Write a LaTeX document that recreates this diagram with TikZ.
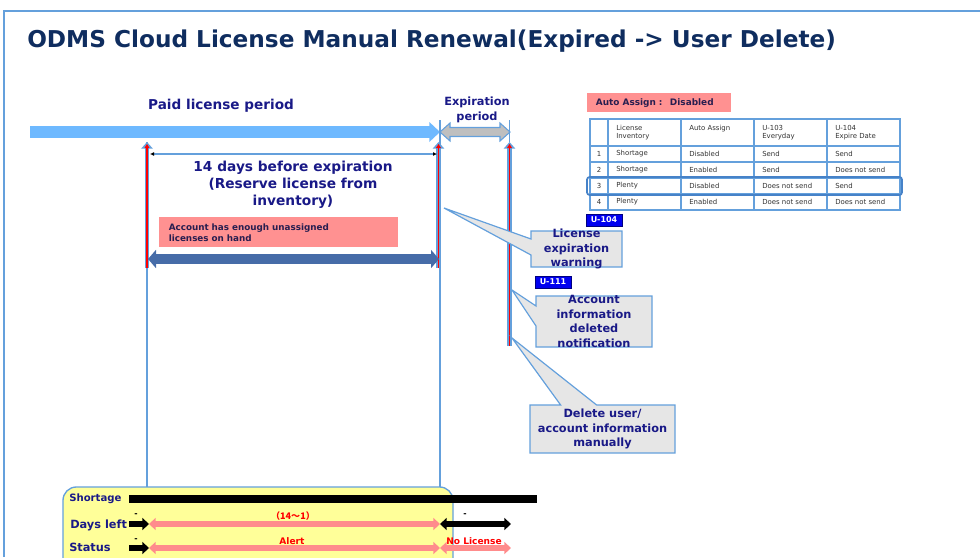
\documentclass[tikz,border=0pt]{standalone}
\usepackage{fontspec}
\setmainfont{DejaVu Sans}
\newfontfamily\cjk{Noto Sans CJK JP}
\usetikzlibrary{arrows.meta,positioning,calc,shapes.callouts}
\definecolor{navy}{RGB}{25,25,135}
\definecolor{titleblue}{RGB}{15,45,95}
\definecolor{lineblue}{RGB}{100,160,220}
\definecolor{hiblue}{RGB}{70,130,200}
\definecolor{paidblue}{RGB}{110,185,255}
\definecolor{darkarrow}{RGB}{70,108,168}
\definecolor{pinkbox}{RGB}{255,145,145}
\definecolor{pinkarrow}{RGB}{255,140,140}
\definecolor{callgray}{RGB}{230,230,230}
\definecolor{ublue}{RGB}{0,0,240}
\definecolor{yellowbox}{RGB}{255,255,153}
\definecolor{boxtext}{RGB}{40,30,80}

\tikzset{
  lbl/.style={font=\bfseries\fontsize{8.5}{10.9}\selectfont,text=navy,align=center,inner sep=0pt},
  callbox/.style={rectangle callout,draw=lineblue,fill=callgray,line width=.9pt,inner sep=0pt,callout pointer width=12pt},
  ubox/.style={draw=blue!50!black,fill=ublue,text=white,font=\bfseries\fontsize{6}{7}\selectfont,inner sep=0pt,minimum width=27pt,minimum height=9pt},
  cell/.style={font=\fontsize{5.2}{6}\selectfont,text=black!80,anchor=west,align=left,inner sep=0pt},
  redtxt/.style={font=\bfseries\fontsize{6.8}{8}\selectfont,text=red,inner sep=0pt},
  minus/.style={font=\bfseries\fontsize{6}{7}\selectfont,inner sep=0pt},
  rowlbl/.style={font=\bfseries\fontsize{8.5}{10}\selectfont,text=navy,anchor=west,inner sep=0pt},
}

\begin{document}
\begin{tikzpicture}[x=.75pt,y=-.75pt,>=Stealth]
\useasboundingbox (0,0) rectangle (980,557);
% frame and title
\draw[lineblue,line width=1.1pt] (4,557) -- (4,11) -- (980,11);
\node[anchor=west,inner sep=0pt,font=\bfseries\fontsize{17.4}{20}\selectfont,text=titleblue] (title) at (27,41) {ODMS Cloud License Manual Renewal(Expired -> User Delete)};

% periods
\coordinate (paidL) at (30,132);
\coordinate (expL) at (440,132);
\coordinate (expR) at (510,132);
\draw[paidblue,line width=9.5pt,-{Triangle[length=8pt,width=14.5pt]}] (paidL) -- (expL);
\filldraw[draw=lineblue,fill=gray!50,line width=.8pt] (expL) -- ++(10,-9) -- ++(0,4.5) -- ($(expR)+(-10,-4.5)$) -- ++(0,-4.5) -- (expR)
  -- ++(-10,9) -- ++(0,-4.5) -- ($(expL)+(10,4.5)$) -- ++(0,4.5) -- cycle;
\node[lbl,font=\bfseries\fontsize{10.2}{12}\selectfont] (paid) at (221,106) {Paid license period};
\node[lbl,font=\bfseries\fontsize{8.5}{11}\selectfont] (exp) at (477,110) {Expiration\\period};

% time lines
\draw[lineblue,line width=1pt] (147,142) -- (147,487);
\draw[lineblue,line width=1pt] (440,120) -- (440,487);
\draw[lineblue,line width=1pt] (509.5,120) -- (509.5,142);
\foreach \x/\yb [count=\i] in {147/268,438.5/268,509.5/346}{
  \coordinate (rb\i) at (\x,\yb);
  \coordinate (rt\i) at (\x,142);
  \draw[lineblue,line width=3.3pt,-{Triangle[length=5pt,width=8.5pt]}] (rb\i) -- (rt\i);
  \draw[red,line width=.95pt,shorten >=1.5pt,-{Triangle[length=3pt,width=3.5pt]}] (rb\i) -- (rt\i);
}

% 14 days
\coordinate (dayL) at (150,154);
\coordinate (dayR) at (437,154);
\draw[lineblue,line width=1.5pt,{Latex[length=3pt,width=3pt,color=black]}-{Latex[length=3pt,width=3pt,color=black]}] (dayL) -- (dayR);
\node[lbl,font=\bfseries\fontsize{10.3}{12.75}\selectfont] (days) at (293,185) {14 days before expiration\\(Reserve license from\\inventory)};
\node[fill=pinkbox,anchor=north west,minimum width=179.25pt,minimum height=22.5pt,text width=165pt,inner xsep=7pt,inner ysep=0pt,align=left,
  font=\bfseries\fontsize{6.6}{8.25}\selectfont,text=boxtext] (enough) at (159,217) {Account has enough unassigned\\licenses on hand};
\coordinate (resL) at (148,259);
\coordinate (resR) at (439,259);
\draw[darkarrow,line width=7.5pt,{Triangle[length=6pt,width=13.5pt]}-{Triangle[length=6pt,width=13.5pt]}] (resL) -- (resR);

% notices
\coordinate (warnTip) at (444,208);
\coordinate (delTip) at (512,290);
\coordinate (manTip) at (512,338);
\node[callbox,minimum width=68.25pt,minimum height=27pt,callout absolute pointer={(warnTip)}] (warn) at (576.5,249) {};
\node[lbl] (warntxt) at (warn.center) {License\\expiration\\warning};
\node[callbox,minimum width=87pt,minimum height=38.25pt,callout pointer width=15pt,callout absolute pointer={(delTip)}] (del) at (594,321.5) {};
\node[lbl] (deltxt) at (del.center) {Account\\information\\deleted\\notification};
\node[callbox,minimum width=108.75pt,minimum height=36pt,callout pointer width=27pt,callout absolute pointer={(manTip)}] (man) at (602.5,429) {};
\node[lbl] (mantxt) at (man.center) {Delete user/\\account information\\manually};
\node[ubox] (u104) at (604,220) {U-104};
\node[ubox] (u111) at (553,282) {U-111};

% table
\node[fill=pinkbox,anchor=north west,minimum width=108pt,minimum height=14.25pt,text width=101pt,inner xsep=3.5pt,inner ysep=0pt,align=left,
  font=\bfseries\fontsize{6.7}{8}\selectfont,text=boxtext] (auto) at (587,93) {\hspace{3pt}Auto Assign : ~Disabled};
\draw[lineblue,line width=.9pt] (590,119) rectangle (900,210);
\foreach \y in {146,162,178,194} \draw[lineblue,line width=.9pt] (590,\y) -- (900,\y);
\foreach \x in {608,681,754,827} \draw[lineblue,line width=.9pt] (\x,119) -- (\x,210);
\node[cell] (h1) at (616,133) {License\\Inventory};
\node[cell] (h2) at (689,129) {Auto Assign};
\node[cell] (h3) at (762,133) {U-103\\Everyday};
\node[cell] (h4) at (835,133) {U-104\\Expire Date};
\foreach \n/\inv/\aa/\ua/\ub [count=\r] in {1/Shortage/Disabled/Send/Send,2/Shortage/Enabled/Send/Does not send,
  3/Plenty/Disabled/Does not send/Send,4/Plenty/Enabled/Does not send/Does not send}{
  \node[cell,anchor=center] (n\r) at (599,138+16*\r) {\n};
  \node[cell] (inv\r) at (616,138+16*\r) {\inv};
  \node[cell] (aa\r) at (689,138+16*\r) {\aa};
  \node[cell] (ua\r) at (762,138+16*\r) {\ua};
  \node[cell] (ub\r) at (835,138+16*\r) {\ub};
}
\draw[hiblue,line width=1.3pt,rounded corners=2pt] (587,177) rectangle (902,195);

% status panel
\draw[lineblue,line width=1pt,fill=yellowbox,rounded corners=10pt] (63,487) rectangle (453,580);
\node[rowlbl,font=\bfseries\fontsize{7.6}{9}\selectfont] (shortage) at (69,499) {Shortage};
\node[rowlbl] (left) at (70,525) {Days left};
\node[rowlbl] (status) at (69,547) {Status};
\coordinate (s0) at (129,499);
\coordinate (s1) at (537,499);
\draw[line width=6pt] (s0) -- (s1);
\foreach \y [count=\i] in {524,548}{
  \coordinate (a\i) at (129,\y);
  \coordinate (b\i) at (149,\y);
  \coordinate (c\i) at (440,\y);
  \coordinate (d\i) at (511,\y);
  \draw[line width=4.5pt,-{Triangle[length=5pt,width=9pt]}] (a\i) -- (b\i);
  \draw[pinkarrow,line width=4.5pt,{Triangle[length=5pt,width=9pt]}-{Triangle[length=5pt,width=9pt]}] (b\i) -- (c\i);
}
\draw[line width=4.5pt,{Triangle[length=5pt,width=9pt]}-{Triangle[length=5pt,width=9pt]}] (c1) -- (d1);
\draw[pinkarrow,line width=4.5pt,{Triangle[length=5pt,width=9pt]}-{Triangle[length=5pt,width=9pt]}] (c2) -- (d2);
\node[minus] (m1) at (136,515) {-};
\node[minus] (m2) at (136,540) {-};
\node[minus] (m3) at (465,515) {-};
\node[redtxt,font=\cjk\bfseries\fontsize{6.8}{8}\selectfont] (range) at (293,516) {（14～1）};
\node[redtxt] (alert) at (292,541) {Alert};
\node[redtxt] (nolic) at (474,541) {No License};
\end{tikzpicture}
\end{document}
